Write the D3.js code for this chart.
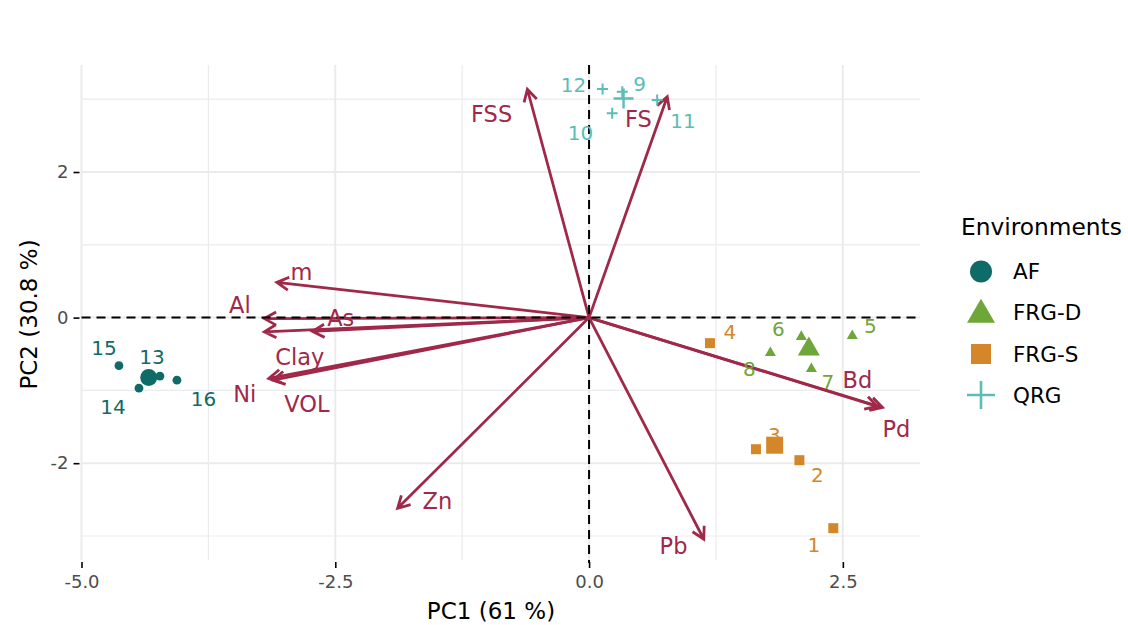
<!DOCTYPE html>
<html>
<head>
<meta charset="utf-8">
<script src="https://cdn.jsdelivr.net/npm/d3@7/dist/d3.min.js"></script>
<style>
  html, body { margin: 0; padding: 0; background: #ffffff; }
  svg { display: block; font-family: "DejaVu Sans", sans-serif; }
</style>
</head>
<body>
<svg id="chart" width="1128" height="625"></svg>
<script>
// ---------------- DATA ----------------
const groups = ["AF", "FRG-D", "FRG-S", "QRG"];
const groupColors = ["#0E6B67", "#6FA63A", "#D4872A", "#5BBDB6"];

const sampleIds   = ["1","2","3","4","5","6","7","8","9","10","11","12","13","14","15","16"];
const sampleGroup = ["FRG-S","FRG-S","FRG-S","FRG-S","FRG-D","FRG-D","FRG-D","FRG-D","QRG","QRG","QRG","QRG","AF","AF","AF","AF"];
const samplePC1   = [2.406, 2.072, 1.644, 1.191, 2.593, 2.091, 2.190, 1.786, 0.327, 0.228, 0.671, 0.133, -4.227, -4.434, -4.631, -4.060];
const samplePC2   = [-2.893, -1.959, -1.808, -0.351, -0.241, -0.254, -0.694, -0.474, 3.104, 2.807, 2.990, 3.141, -0.804, -0.969, -0.660, -0.859];
// repelled label anchors (data units, text baseline)
const sampleLabelPC1 = [2.215, 2.249, 1.826, 1.386, 2.771, 1.865, 2.352, 1.580, 0.497, -0.084, 0.925, -0.153, -4.306, -4.690, -4.779, -3.799];
const sampleLabelPC2 = [-3.219, -2.257, -1.711, -0.300, -0.217, -0.254, -0.987, -0.804, 3.118, 2.440, 2.601, 3.104, -0.643, -1.326, -0.515, -1.216];

const varNames = ["FSS", "FS", "m", "Al", "As", "Clay", "Ni", "VOL", "Zn", "Pb", "Bd", "Pd"];
const varPC1   = [-0.608, 0.770, -3.076, -3.199, -2.724, -3.199, -3.155, -3.115, -1.886, 1.130, 2.840, 2.890];
const varPC2   = [3.137, 3.035, 0.484, -0.014, -0.190, -0.195, -0.835, -0.860, -2.620, -3.045, -1.220, -1.235];
const varLabelPC1 = [-0.960, 0.487, -2.833, -3.440, -2.446, -2.849, -3.391, -2.780, -1.494, 0.832, 2.643, 3.027];
const varLabelPC2 = [2.688, 2.622, 0.516, 0.058, -0.117, -0.653, -1.157, -1.295, -2.636, -3.251, -0.973, -1.647];

const xTicks = [-5.0, -2.5, 0.0, 2.5];
const xMinor = [-3.75, -1.25, 1.25];
const yTicks = [-2, 0, 2];
const yMinor = [-3, -1, 1, 3];

const xTitle = "PC1 (61 %)";
const yTitle = "PC2 (30.8 %)";
const legendTitle = "Environments";

// ---------------- LAYOUT ----------------
const svg = d3.select("#chart");
const panel = { left: 81.5, right: 920, top: 65, bottom: 560 };
const x = d3.scaleLinear().domain([-5.0, 3.26]).range([panel.left, panel.right]);
const y = d3.scaleLinear().domain([-3.33, 3.47]).range([panel.bottom, panel.top]);
const color = d3.scaleOrdinal().domain(groups).range(groupColors);
const arrowColor = "#A0294A";
const gridColor = "#EBEBEB";

// grid
const grid = svg.append("g");
grid.selectAll("line.vmin").data(xMinor).join("line")
  .attr("x1", d => x(d)).attr("x2", d => x(d))
  .attr("y1", panel.top).attr("y2", panel.bottom)
  .attr("stroke", gridColor).attr("stroke-width", 1.2);
grid.selectAll("line.hmin").data(yMinor).join("line")
  .attr("y1", d => y(d)).attr("y2", d => y(d))
  .attr("x1", panel.left).attr("x2", panel.right)
  .attr("stroke", gridColor).attr("stroke-width", 1.2);
grid.selectAll("line.vmaj").data(xTicks).join("line")
  .attr("x1", d => x(d)).attr("x2", d => x(d))
  .attr("y1", panel.top).attr("y2", panel.bottom)
  .attr("stroke", gridColor).attr("stroke-width", 2);
grid.selectAll("line.hmaj").data(yTicks).join("line")
  .attr("y1", d => y(d)).attr("y2", d => y(d))
  .attr("x1", panel.left).attr("x2", panel.right)
  .attr("stroke", gridColor).attr("stroke-width", 2);

// axes (ticks + labels)
const xAxis = d3.axisBottom(x).tickValues(xTicks).tickFormat(d3.format(".1f")).tickSize(6).tickPadding(7);
const gx = svg.append("g").attr("transform", `translate(0,${panel.bottom + 2})`).call(xAxis);
gx.select(".domain").remove();
gx.selectAll(".tick line").attr("stroke", "#000").attr("stroke-width", 1.6);
gx.selectAll(".tick text").attr("fill", "#4D4D4D").style("font-size", "18px")
  .style("font-family", "DejaVu Sans, sans-serif").text(d => d3.format(".1f")(d).replace("−", "-"));

const yAxis = d3.axisLeft(y).tickValues(yTicks).tickSize(6).tickPadding(5);
const gy = svg.append("g").attr("transform", `translate(${panel.left - 2},0)`).call(yAxis);
gy.select(".domain").remove();
gy.selectAll(".tick line").attr("stroke", "#000").attr("stroke-width", 1.6);
gy.selectAll(".tick text").attr("fill", "#4D4D4D").style("font-size", "18px")
  .style("font-family", "DejaVu Sans, sans-serif").text(d => String(d).replace("−", "-"));

// axis titles
svg.append("text").attr("x", 491).attr("y", 619).attr("text-anchor", "middle")
  .attr("fill", "#000").style("font-size", "23px").text(xTitle);
svg.append("text").attr("transform", `translate(37,${(panel.top + panel.bottom) / 2 + 2}) rotate(-90)`)
  .attr("text-anchor", "middle").attr("fill", "#000").style("font-size", "23px").text(yTitle);

// ---------------- ARROWS ----------------
const vars = varNames.map((n, i) => ({ name: n, pc1: varPC1[i], pc2: varPC2[i], lx: varLabelPC1[i], ly: varLabelPC2[i] }));
const arrowG = svg.append("g");
const headLen = 13.5, headAng = Math.PI / 6.2;
vars.forEach(v => {
  const x0 = x(0), y0 = y(0), x1 = x(v.pc1), y1 = y(v.pc2);
  const a = Math.atan2(y1 - y0, x1 - x0);
  const hx1 = x1 - headLen * Math.cos(a - headAng), hy1 = y1 - headLen * Math.sin(a - headAng);
  const hx2 = x1 - headLen * Math.cos(a + headAng), hy2 = y1 - headLen * Math.sin(a + headAng);
  const p = d3.path();
  p.moveTo(x0, y0); p.lineTo(x1, y1);
  p.moveTo(hx1, hy1); p.lineTo(x1, y1); p.lineTo(hx2, hy2);
  arrowG.append("path").attr("d", p.toString()).attr("fill", "none")
    .attr("stroke", arrowColor).attr("stroke-width", 2.8)
    .attr("stroke-linecap", "butt").attr("stroke-linejoin", "miter");
});

// dashed reference lines
svg.append("line").attr("x1", panel.left).attr("x2", panel.right).attr("y1", y(0)).attr("y2", y(0))
  .attr("stroke", "#000").attr("stroke-width", 2).attr("stroke-dasharray", "9,6");
svg.append("line").attr("y1", panel.top).attr("y2", panel.bottom + 3).attr("x1", x(0)).attr("x2", x(0))
  .attr("stroke", "#000").attr("stroke-width", 2).attr("stroke-dasharray", "9,6");

// ---------------- POINTS ----------------
const samples = sampleIds.map((id, i) => ({ id, group: sampleGroup[i], pc1: samplePC1[i], pc2: samplePC2[i], lx: sampleLabelPC1[i], ly: sampleLabelPC2[i] }));
const centroids = groups.map(g => {
  const s = samples.filter(d => d.group === g);
  return { group: g, pc1: d3.mean(s, d => d.pc1), pc2: d3.mean(s, d => d.pc2) };
});

function drawMarker(sel, group, cx, cy, big) {
  const col = color(group);
  if (group === "AF") {
    sel.append("circle").attr("cx", cx).attr("cy", cy).attr("r", big ? 8.5 : 4.4).attr("fill", col);
  } else if (group === "FRG-D") {
    const w = big ? 22 : 11, h = w * 0.866;
    sel.append("path").attr("d", d3.line()([[cx, cy - h * 0.6], [cx + w / 2, cy + h * 0.4], [cx - w / 2, cy + h * 0.4]]) + "Z")
      .attr("fill", col);
  } else if (group === "FRG-S") {
    const s = big ? 17 : 10;
    sel.append("rect").attr("x", cx - s / 2).attr("y", cy - s / 2).attr("width", s).attr("height", s).attr("fill", col);
  } else {
    const s = big ? 10 : 5.5;
    sel.append("path").attr("d", `M${cx - s},${cy}H${cx + s}M${cx},${cy - s}V${cy + s}`)
      .attr("stroke", col).attr("stroke-width", big ? 2.4 : 2).attr("fill", "none");
  }
}

const ptG = svg.append("g");
samples.forEach(d => drawMarker(ptG, d.group, x(d.pc1), y(d.pc2), false));

// sample labels
svg.append("g").selectAll("text").data(samples).join("text")
  .attr("x", d => x(d.lx)).attr("y", d => y(d.ly)).attr("text-anchor", "middle")
  .attr("fill", d => color(d.group)).style("font-size", "20px").text(d => d.id);

// centroids
const cG = svg.append("g");
centroids.forEach(c => drawMarker(cG, c.group, x(c.pc1), y(c.pc2), true));

// variable labels
svg.append("g").selectAll("text").data(vars).join("text")
  .attr("x", d => x(d.lx)).attr("y", d => y(d.ly)).attr("text-anchor", "middle")
  .attr("fill", arrowColor).style("font-size", "22.5px").text(d => d.name);

// ---------------- LEGEND ----------------
const lg = svg.append("g");
lg.append("text").attr("x", 961).attr("y", 235).attr("fill", "#000").style("font-size", "23.3px").text(legendTitle);
const legY = [271.5, 312, 354, 395];
groups.forEach((g, i) => {
  const cx = 981, cy = legY[i], col = color(g);
  if (g === "AF") {
    lg.append("circle").attr("cx", cx).attr("cy", cy).attr("r", 11).attr("fill", col);
  } else if (g === "FRG-D") {
    const w = 28, h = 24;
    lg.append("path").attr("d", d3.line()([[cx, cy - h * 0.55], [cx + w / 2, cy + h * 0.45], [cx - w / 2, cy + h * 0.45]]) + "Z").attr("fill", col);
  } else if (g === "FRG-S") {
    lg.append("rect").attr("x", cx - 10).attr("y", cy - 10).attr("width", 20).attr("height", 20).attr("fill", col);
  } else {
    lg.append("path").attr("d", `M${cx - 14},${cy}H${cx + 14}M${cx},${cy - 14}V${cy + 14}`)
      .attr("stroke", col).attr("stroke-width", 2.6).attr("fill", "none");
  }
  lg.append("text").attr("x", 1013).attr("y", cy).attr("dy", "0.36em").attr("fill", "#000")
    .style("font-size", "21.5px").text(g);
});
</script>
</body>
</html>
